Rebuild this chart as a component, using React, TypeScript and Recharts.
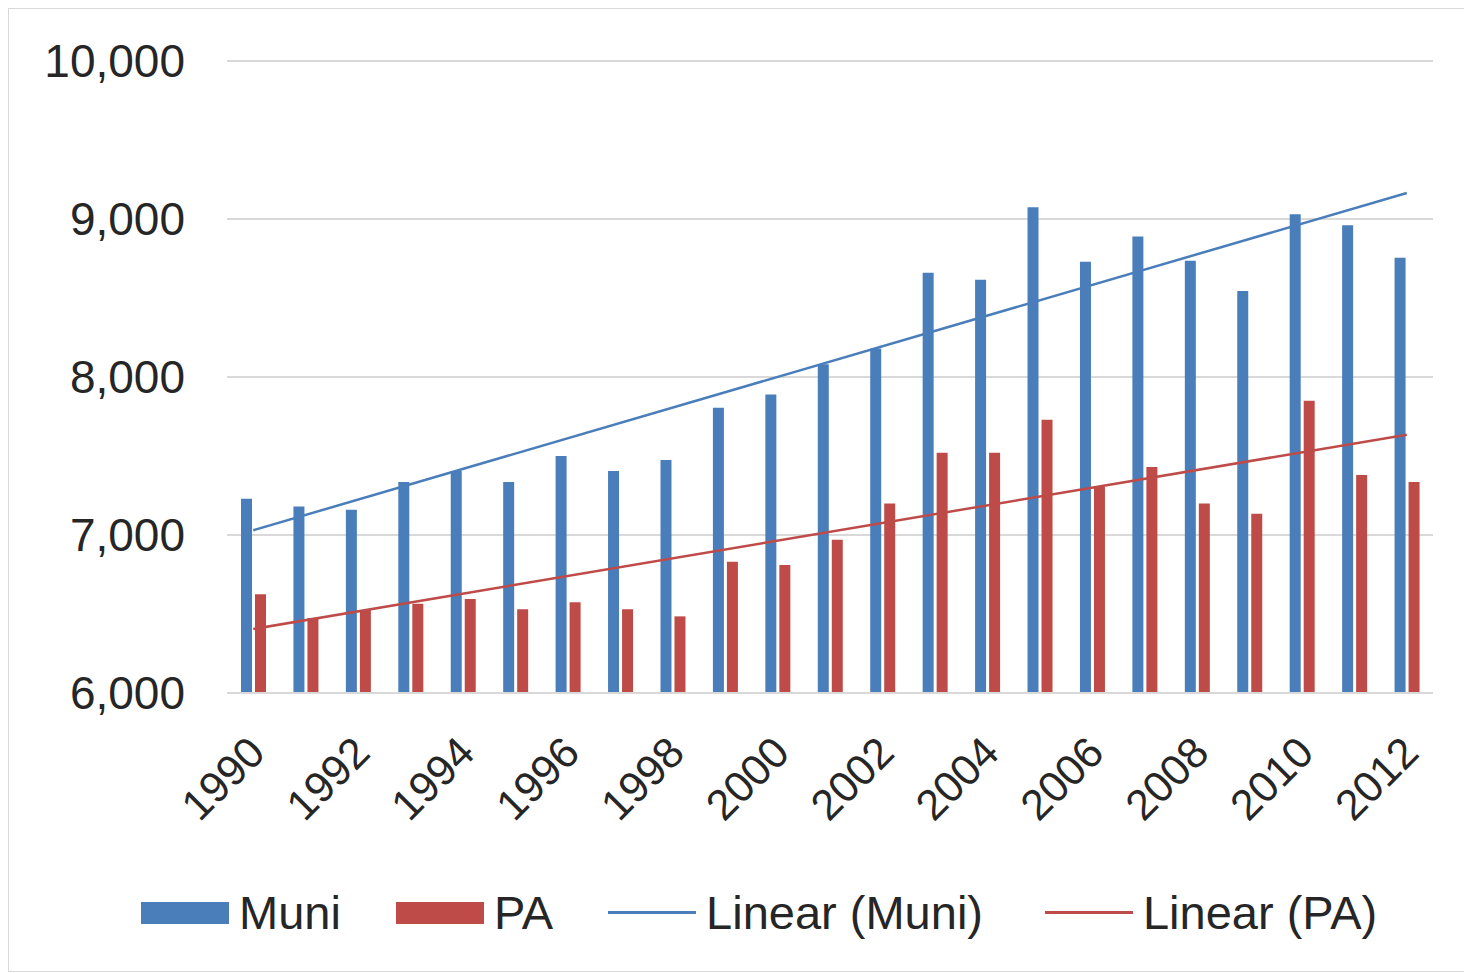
import {
  ComposedChart,
  Bar,
  Line,
  XAxis,
  YAxis,
  CartesianGrid,
  Legend,
} from "recharts";

const years = [
  "1990", "1991", "1992", "1993", "1994", "1995", "1996", "1997", "1998", "1999", "2000",
  "2001", "2002", "2003", "2004", "2005", "2006", "2007", "2008", "2009", "2010", "2011", "2012",
];

const muni = [
  7230, 7180, 7160, 7335, 7405, 7335, 7500, 7405, 7475, 7805, 7890,
  8080, 8180, 8660, 8615, 9075, 8730, 8890, 8735, 8545, 9030, 8960, 8755,
];

const pa = [
  6625, 6475, 6525, 6565, 6595, 6530, 6575, 6530, 6485, 6830, 6810,
  6970, 7200, 7520, 7520, 7730, 7305, 7430, 7200, 7135, 7850, 7380, 7335,
];

// fitted trend lines, read at first and last year
const muniTrend = [7030, 9165];
const paTrend = [6405, 7635];

const yTicks = [6000, 7000, 8000, 9000, 10000];

const BLUE = "#4a7ebb";
const RED = "#be4b48";
const FONT = "'Liberation Sans', Arial, sans-serif";

const chartData = years.map((year, i) => ({
  year,
  muni: muni[i],
  pa: pa[i],
  muniTrend: i === 0 ? muniTrend[0] : i === years.length - 1 ? muniTrend[1] : null,
  paTrend: i === 0 ? paTrend[0] : i === years.length - 1 ? paTrend[1] : null,
}));

const legendItems = [
  { label: "Muni", color: BLUE, kind: "bar" },
  { label: "PA", color: RED, kind: "bar" },
  { label: "Linear (Muni)", color: BLUE, kind: "line" },
  { label: "Linear (PA)", color: RED, kind: "line" },
];

function YearTick(props: any) {
  const { x, y, payload } = props;
  const tx = x - 8;
  const ty = y + 32;
  return (
    <text
      x={tx}
      y={ty}
      transform={`rotate(-45 ${tx} ${ty})`}
      textAnchor="end"
      dominantBaseline="hanging"
      fontSize={43}
      fontFamily={FONT}
      fill="#262626"
    >
      {payload.value}
    </text>
  );
}

function ChartLegend() {
  return (
    <div style={{ display: "flex", alignItems: "center", fontFamily: FONT, fontSize: 47, color: "#262626" }}>
      {legendItems.map((item, i) => (
        <div key={item.label} style={{ display: "flex", alignItems: "center", marginRight: i === 2 ? 62 : 55 }}>
          <div
            style={{
              width: 88,
              height: item.kind === "bar" ? 22 : 3,
              background: item.color,
              marginRight: 10,
            }}
          />
          <span>{item.label}</span>
        </div>
      ))}
    </div>
  );
}

export default function App() {
  return (
    <div style={{ width: 1462, height: 962, border: "1px solid #d9d9d9", background: "#fff" }}>
      <ComposedChart
        width={1462}
        height={962}
        data={chartData}
        margin={{ top: 52, right: 38, left: 0, bottom: 0 }}
        barSize={11}
        barGap={3}
      >
        <CartesianGrid vertical={false} stroke="#d9d9d9" strokeWidth={2} />
        <XAxis
          dataKey="year"
          interval={1}
          tickLine={false}
          axisLine={{ stroke: "#d9d9d9", strokeWidth: 2 }}
          tick={<YearTick />}
          height={223}
        />
        <YAxis
          domain={[6000, 10000]}
          ticks={yTicks}
          width={218}
          axisLine={false}
          tickLine={false}
          tickFormatter={(v: number) => v.toLocaleString("en-US")}
          tick={{ fontSize: 46, fontFamily: FONT, fill: "#262626", dx: -34 }}
        />
        <Legend
          content={<ChartLegend />}
          wrapperStyle={{ position: "absolute", left: 132, top: 876, width: 1330 }}
        />
        <Bar dataKey="muni" name="Muni" fill={BLUE} isAnimationActive={false} />
        <Bar dataKey="pa" name="PA" fill={RED} isAnimationActive={false} />
        <Line
          dataKey="muniTrend"
          name="Linear (Muni)"
          type="linear"
          stroke={BLUE}
          strokeWidth={2.5}
          dot={false}
          connectNulls
          isAnimationActive={false}
        />
        <Line
          dataKey="paTrend"
          name="Linear (PA)"
          type="linear"
          stroke={RED}
          strokeWidth={2.5}
          dot={false}
          connectNulls
          isAnimationActive={false}
        />
      </ComposedChart>
    </div>
  );
}
